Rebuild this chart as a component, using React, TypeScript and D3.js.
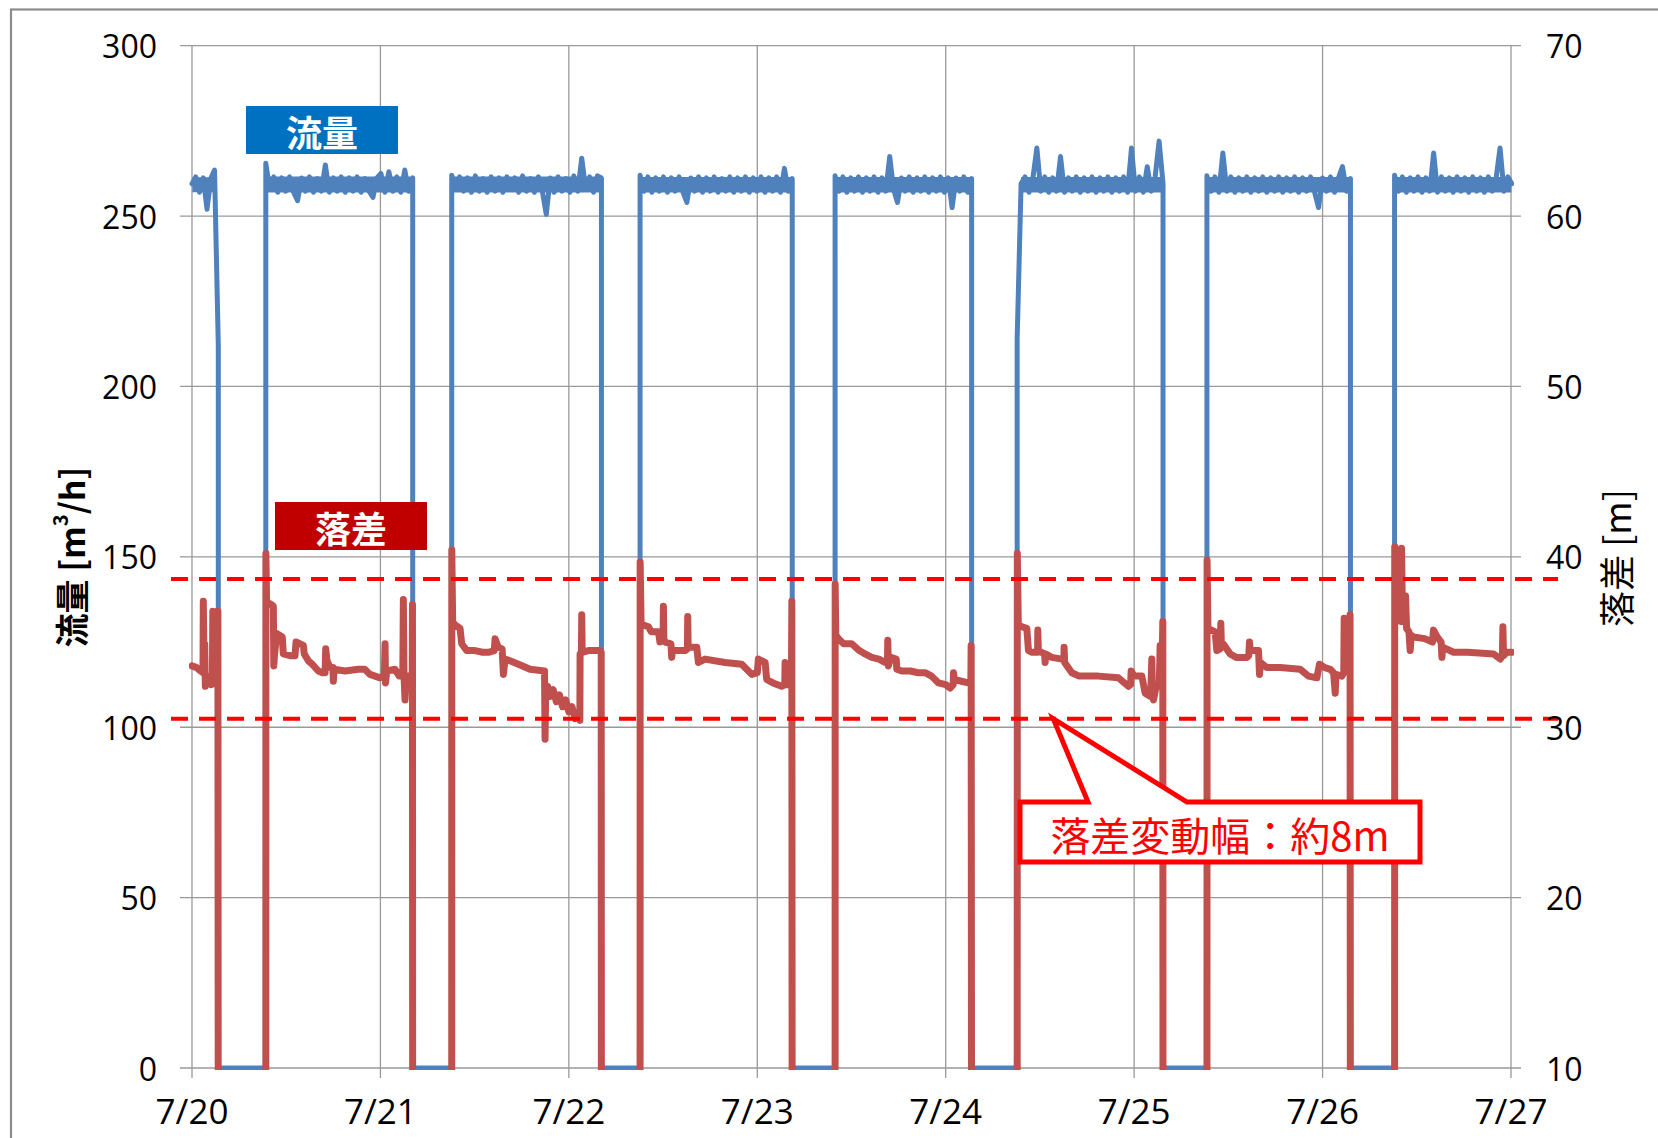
import React from "react";
import * as d3 from "d3";

// 7/20 00:00 を 0 とした経過時間 [h]
const dayTicks = ["7/20", "7/21", "7/22", "7/23", "7/24", "7/25", "7/26", "7/27"];
const flowTicks = [0, 50, 100, 150, 200, 250, 300];
const headTicks = [10, 20, 30, 40, 50, 60, 70];

// ポンプ運転の開始・停止時刻 [h]
const runStart = [0, 9.4, 33.08, 57.07, 81.91, 105.1, 129.27, 153.17];
const runStop = [3.35, 28.11, 52.15, 76.45, 99.3, 123.68, 147.55, 168.1];

// 流量 [m3/h]（運転中、ほぼ30分おきの読み）
const flow0 = [259.5, 261.5, 257.0, 261.2, 252.0, 261.0, 263.5, 212.0];
const flow1 = [265.5, 257.8, 261.5, 257.0, 261.2, 257.3, 261.5, 257.0, 254.5, 261.2, 257.3, 261.5, 257.0, 261.0, 257.3, 265.0, 257.0, 261.2, 257.3, 261.5, 257.0, 261.2, 257.3, 261.5, 257.0, 261.0, 257.3, 255.5, 261.2, 262.5, 257.0, 263.0, 257.3, 261.5, 257.0, 263.5, 257.3, 261.2];
const flow2 = [262.0, 257.8, 261.5, 257.3, 261.2, 257.0, 261.8, 257.3, 261.0, 257.0, 261.5, 257.3, 261.2, 257.0, 261.5, 257.8, 261.2, 257.0, 261.8, 257.3, 261.0, 257.0, 261.5, 257.3, 250.5, 261.2, 257.0, 261.5, 257.3, 261.0, 257.0, 261.8, 257.3, 267.0, 257.8, 261.5, 257.0, 261.8, 261.2];
const flow3 = [262.0, 257.3, 261.5, 257.0, 261.2, 257.3, 261.5, 257.0, 261.2, 257.3, 261.5, 257.0, 254.0, 261.2, 257.3, 261.5, 257.0, 261.2, 257.3, 261.5, 257.0, 261.0, 257.3, 261.5, 257.0, 261.2, 257.3, 261.5, 257.0, 261.2, 257.3, 261.5, 257.0, 261.2, 257.3, 261.5, 257.0, 264.0, 257.3, 261.0];
const flow4 = [261.8, 257.3, 261.5, 257.0, 261.2, 257.3, 261.5, 257.0, 261.2, 257.3, 261.5, 257.0, 261.2, 257.3, 267.5, 257.8, 254.0, 261.2, 257.3, 261.5, 257.0, 261.2, 257.3, 261.5, 257.0, 261.2, 257.3, 261.5, 257.0, 261.2, 252.5, 261.2, 257.3, 261.5, 257.0, 261.0];
const flow5 = [214.0, 259.5, 261.5, 257.0, 261.2, 270.0, 257.3, 261.5, 257.0, 261.2, 257.3, 267.5, 257.0, 261.2, 257.3, 261.5, 257.0, 261.2, 257.3, 261.5, 257.0, 261.2, 257.3, 261.5, 257.0, 261.2, 257.3, 261.5, 257.0, 270.0, 257.3, 261.5, 257.0, 264.5, 257.3, 261.5, 272.0, 259.5];
const flow6 = [261.8, 257.3, 261.5, 257.0, 268.5, 257.3, 261.5, 257.0, 261.2, 257.3, 261.5, 257.0, 261.2, 257.3, 261.5, 257.0, 261.2, 257.3, 261.5, 257.0, 261.2, 257.3, 261.5, 257.0, 261.2, 257.3, 261.5, 257.0, 252.5, 261.2, 257.3, 261.5, 257.0, 261.2, 264.5, 257.3, 261.0];
const flow7 = [262.0, 257.3, 261.5, 257.0, 261.2, 257.3, 261.5, 257.0, 261.2, 257.3, 268.5, 257.0, 261.5, 257.3, 261.2, 257.0, 261.5, 257.3, 261.2, 257.0, 261.5, 257.3, 261.2, 257.0, 261.5, 257.3, 261.2, 270.0, 257.3, 261.5, 259.5];

// 流量の細かい変動幅（各運転の下限・上限）
const flowNoiseLo = [257.0, 256.9, 256.9, 256.9, 256.9, 256.9, 256.9, 256.9];
const flowNoiseHi = [261.4, 261.6, 261.6, 261.5, 261.5, 261.5, 261.5, 261.5];

// 落差 [m]（[時刻h, 値]）
const head0 = [[0, 33.6], [0.6, 33.5], [1.1, 33.3], [1.4, 33.2], [1.44, 37.4], [1.5, 35.0], [1.62, 34.9], [1.7, 32.4], [1.9, 33.0], [2.2, 32.8], [2.45, 32.5], [2.6, 32.6], [2.65, 36.8], [2.75, 36.7], [2.85, 32.6], [3.1, 32.5], [3.2, 36.8], [3.3, 36.8]];
const head1 = [[9.41, 40.2], [9.5, 37.4], [9.72, 37.3], [10.1, 37.2], [10.36, 37.1], [10.42, 33.6], [10.5, 34.2], [10.79, 35.5], [11.5, 35.3], [11.63, 34.3], [12.5, 34.2], [13.12, 34.2], [13.25, 35.0], [14.18, 34.8], [14.3, 34.3], [14.82, 33.9], [15.3, 33.7], [16.09, 33.3], [16.6, 33.2], [16.95, 33.2], [17.03, 34.6], [17.2, 33.9], [17.6, 33.5], [17.95, 33.5], [18.0, 32.7], [18.1, 33.4], [19.49, 33.3], [21.19, 33.4], [22.0, 33.4], [22.68, 33.1], [23.95, 32.9], [24.5, 33.0], [24.59, 34.9], [24.65, 32.6], [24.8, 33.3], [25.86, 33.4], [26.4, 33.0], [26.85, 33.0], [26.92, 37.5], [27.0, 33.1], [27.13, 31.6], [27.3, 33.0], [28.05, 33.0], [28.08, 37.2]];
const head2 = [[33.09, 40.4], [33.2, 36.2], [33.5, 36.0], [34.14, 35.8], [34.35, 34.9], [35.0, 34.5], [36.05, 34.5], [37.0, 34.4], [37.75, 34.4], [38.5, 34.5], [38.6, 35.2], [39.0, 34.7], [39.5, 34.6], [39.66, 33.1], [39.87, 34.0], [40.5, 33.9], [41.57, 33.7], [43.06, 33.4], [44.9, 33.3], [44.97, 29.3], [45.05, 32.2], [45.3, 32.4], [45.6, 31.8], [46.0, 32.2], [46.4, 31.5], [46.8, 31.9], [47.2, 31.2], [47.6, 31.6], [48.0, 30.9], [48.4, 31.2], [48.8, 30.5], [49.2, 30.8], [49.4, 30.4], [49.43, 34.3], [49.6, 34.4], [49.64, 36.6], [49.7, 34.4], [50.5, 34.5], [51.97, 34.5], [52.12, 34.4]];
const head3 = [[57.08, 39.7], [57.2, 36.1], [57.5, 36.0], [58.13, 35.9], [58.5, 35.6], [59.41, 35.6], [59.6, 35.0], [60.0, 35.1], [60.04, 37.1], [60.1, 35.2], [60.26, 35.0], [61.0, 34.9], [61.1, 34.1], [61.2, 34.5], [62.8, 34.5], [63.1, 34.6], [63.14, 36.5], [63.2, 34.7], [64.29, 34.7], [64.5, 33.8], [65.35, 34.0], [67.9, 33.8], [70.02, 33.7], [71.3, 33.1], [72.0, 33.2], [72.14, 34.0], [73.0, 33.8], [73.2, 32.8], [74.0, 32.6], [75.1, 32.4], [75.5, 32.5], [75.54, 33.8], [75.6, 32.5], [76.35, 32.5], [76.4, 37.4]];
const head4 = [[81.92, 38.4], [82.0, 35.4], [82.34, 35.2], [83.0, 34.9], [84.03, 34.9], [85.0, 34.5], [85.73, 34.3], [86.58, 34.1], [87.5, 34.0], [88.28, 33.8], [88.58, 33.8], [88.62, 35.1], [88.7, 33.6], [89.0, 34.1], [89.7, 34.0], [89.77, 33.4], [90.4, 33.3], [91.5, 33.3], [92.5, 33.2], [93.38, 33.2], [94.2, 33.0], [95.08, 32.6], [96.0, 32.5], [96.56, 32.3], [96.95, 32.5], [96.99, 33.2], [97.1, 32.8], [98.0, 32.7], [98.9, 32.6], [99.2, 32.6], [99.24, 34.8]];
const head5 = [[105.12, 40.2], [105.25, 36.0], [105.69, 35.9], [106.33, 35.8], [106.54, 34.5], [107.0, 34.4], [107.7, 34.4], [107.73, 35.7], [107.8, 34.5], [108.6, 34.3], [108.66, 33.8], [108.75, 34.3], [109.5, 34.1], [110.8, 34.0], [111.05, 34.0], [111.08, 34.7], [111.15, 33.8], [112.06, 33.2], [113.0, 33.0], [115.46, 33.0], [118.0, 32.9], [119.28, 32.4], [119.55, 32.5], [119.62, 33.3], [120.0, 33.0], [120.98, 33.0], [121.4, 32.0], [122.1, 31.8], [122.25, 34.0], [122.35, 31.8], [122.46, 31.6], [122.8, 32.4], [123.2, 32.4], [123.31, 34.8], [123.6, 34.8], [123.65, 36.2]];
const head6 = [[129.29, 39.8], [129.4, 35.8], [130.32, 35.6], [130.53, 34.5], [130.95, 34.6], [131.04, 36.1], [131.1, 35.0], [131.5, 34.8], [132.23, 34.3], [133.0, 34.1], [134.36, 34.1], [134.6, 34.2], [134.69, 35.0], [134.8, 34.5], [135.84, 34.5], [135.97, 33.1], [136.1, 33.8], [136.9, 33.5], [138.6, 33.5], [141.15, 33.4], [142.2, 33.0], [143.27, 32.9], [143.61, 33.7], [144.3, 33.5], [144.97, 33.4], [145.4, 33.2], [145.61, 32.0], [145.7, 33.1], [146.46, 33.0], [146.7, 33.2], [146.75, 36.4], [146.85, 34.7], [147.4, 34.7], [147.5, 36.6]];
const head7 = [[153.19, 40.6], [153.3, 36.3], [153.47, 36.3], [154.0, 36.2], [154.06, 40.5], [154.15, 37.5], [154.35, 37.0], [154.57, 37.7], [154.7, 35.8], [155.0, 35.6], [155.16, 34.5], [155.3, 35.4], [155.58, 35.3], [157.0, 35.2], [158.0, 35.0], [158.13, 35.7], [158.6, 35.3], [159.1, 35.0], [159.2, 34.1], [159.3, 34.7], [160.68, 34.4], [162.5, 34.4], [165.78, 34.3], [166.63, 34.0], [166.9, 34.2], [166.97, 35.9], [167.05, 34.2], [167.5, 34.4], [168.1, 34.4]];

const headOff = 0; // 停止中（右軸の下限より下）
const headBand = [38.7, 30.5]; // 落差の上下限（破線）
const calloutAt = [109.7, 30.5];
const calloutText = "落差変動幅：約8m";

const flowRuns = [flow0, flow1, flow2, flow3, flow4, flow5, flow6, flow7];
const headRuns = [head0, head1, head2, head3, head4, head5, head6, head7];

const W = 1658;
const H = 1138;
const PL = 192, PR = 1511, PT = 45.7, PB = 1068;
const FONT = "'Open Sans', 'Noto Sans', sans-serif";
const JP = "'Noto Sans CJK JP', 'Noto Sans', sans-serif";
const BLUE = "#4F81BD";
const RED = "#C0504D";
const GRID = "#999999";

export default function App() {
  const x = d3.scaleLinear().domain([0, 168]).range([PL, PR]);
  const yL = d3.scaleLinear().domain([0, 300]).range([PB, PT]);
  const yR = d3.scaleLinear().domain([10, 70]).range([PB, PT]);

  const flowPts: [number, number][] = [];
  flowRuns.forEach((vals, k) => {
    const t0 = runStart[k];
    const step = (runStop[k] - t0) / (vals.length - 1);
    if (k > 0) flowPts.push([t0, 0]);
    vals.forEach((v, i) => flowPts.push([t0 + i * step, v]));
    if (k < flowRuns.length - 1) flowPts.push([runStop[k], 0]);
  });

  const headPts: [number, number][] = [];
  headRuns.forEach((pairs, k) => {
    if (k > 0) headPts.push([runStart[k], headOff]);
    pairs.forEach((p) => headPts.push([p[0], p[1]]));
    if (k < headRuns.length - 1) headPts.push([runStop[k], headOff]);
  });

  const flowLine = d3.line<[number, number]>().x((d) => x(d[0])).y((d) => yL(d[1]));
  const headLine = d3.line<[number, number]>().x((d) => x(d[0])).y((d) => yR(d[1]));

  // 運転中の流量のばらつき（帯）
  const bands = runStart.map((t0, k) => {
    const a = d3
      .area<number>()
      .x((d) => x(d))
      .y0(() => yL(flowNoiseLo[k]))
      .y1(() => yL(flowNoiseHi[k]));
    const from = t0 + (k === 5 ? 0.5 : 0.05);
    const to = runStop[k] - (k === 0 ? 0.5 : 0.05);
    return a([from, to]) || "";
  });

  const tipX = x(calloutAt[0]);
  const tipY = yR(calloutAt[1]);
  const bx0 = 1020, bx1 = 1420, by0 = 802, by1 = 862;
  const callout = d3.path();
  callout.moveTo(bx0, by0);
  callout.lineTo(1088, by0);
  callout.lineTo(tipX, tipY);
  callout.lineTo(1187, by0);
  callout.lineTo(bx1, by0);
  callout.lineTo(bx1, by1);
  callout.lineTo(bx0, by1);
  callout.closePath();

  return (
    <svg width={W} height={H} style={{ position: "absolute", left: 0, top: 0, background: "#fff" }}>
      <defs>
        <clipPath id="plot">
          <rect x={PL - 3} y={PT - 20} width={PR - PL + 6} height={PB - PT + 22} />
        </clipPath>
      </defs>
      <rect x={0} y={0} width={W} height={H} fill="#fff" />
      <rect x={11} y={9.5} width={W + 40} height={H + 40} fill="none" stroke="#8c8c8c" strokeWidth={2.2} />

      {flowTicks.map((t) => (
        <line key={"h" + t} x1={PL - 12} x2={PR + 10} y1={yL(t)} y2={yL(t)} stroke={GRID} strokeWidth={1.3} />
      ))}
      {dayTicks.map((d, i) => (
        <line key={"v" + d} x1={x(i * 24)} x2={x(i * 24)} y1={PT} y2={PB + 10} stroke={GRID} strokeWidth={1.3} />
      ))}

      <g clipPath="url(#plot)">
        {bands.map((d, k) => (
          <path key={"n" + k} d={d} fill={BLUE} />
        ))}
        <g fill="none" strokeLinejoin="round" strokeLinecap="round">
          <path d={flowLine(flowPts) || ""} stroke={BLUE} strokeWidth={5} />
          <path d={headLine(headPts) || ""} stroke={RED} strokeWidth={7} />
        </g>
      </g>

      {headBand.map((v) => (
        <line key={"b" + v} x1={171} x2={1558} y1={yR(v)} y2={yR(v)} stroke="#FF0000" strokeWidth={4} strokeDasharray="17 11" />
      ))}

      <g fontFamily={FONT} fontSize={32} fill="#000">
        {flowTicks.map((t) => (
          <text key={"l" + t} x={157} y={yL(t)} textAnchor="end" dominantBaseline="central">{t}</text>
        ))}
        {headTicks.map((t) => (
          <text key={"r" + t} x={1546} y={yR(t)} textAnchor="start" dominantBaseline="central">{t}</text>
        ))}
        {dayTicks.map((d, i) => (
          <text key={"x" + d} x={x(i * 24)} y={1110} textAnchor="middle" dominantBaseline="central" fontSize={35}>{d}</text>
        ))}
      </g>

      <text transform="translate(70,557) rotate(-90)" textAnchor="middle" dominantBaseline="central" fontFamily={JP} fontWeight={700} fontSize={34}>
        流量 [m<tspan fontSize={20} dy={-11}>3</tspan><tspan dy={11}>/h]</tspan>
      </text>
      <text transform="translate(1615,558) rotate(-90)" textAnchor="middle" dominantBaseline="central" fontFamily={JP} fontSize={36}>
        落差 [m]
      </text>

      <rect x={246} y={106} width={152} height={48} fill="#0070C0" />
      <text x={322} y={131} textAnchor="middle" dominantBaseline="central" fontFamily={JP} fontWeight={700} fontSize={36} fill="#fff">流量</text>
      <rect x={275} y={502} width={152} height={48} fill="#C00000" />
      <text x={351} y={527} textAnchor="middle" dominantBaseline="central" fontFamily={JP} fontWeight={700} fontSize={36} fill="#fff">落差</text>

      <path d={callout.toString()} fill="#fff" stroke="#FF0000" strokeWidth={5} strokeLinejoin="miter" />
      <text x={(bx0 + bx1) / 2} y={834} textAnchor="middle" dominantBaseline="central" fontFamily={JP} fontSize={40} fill="#FF0000">{calloutText}</text>
    </svg>
  );
}
